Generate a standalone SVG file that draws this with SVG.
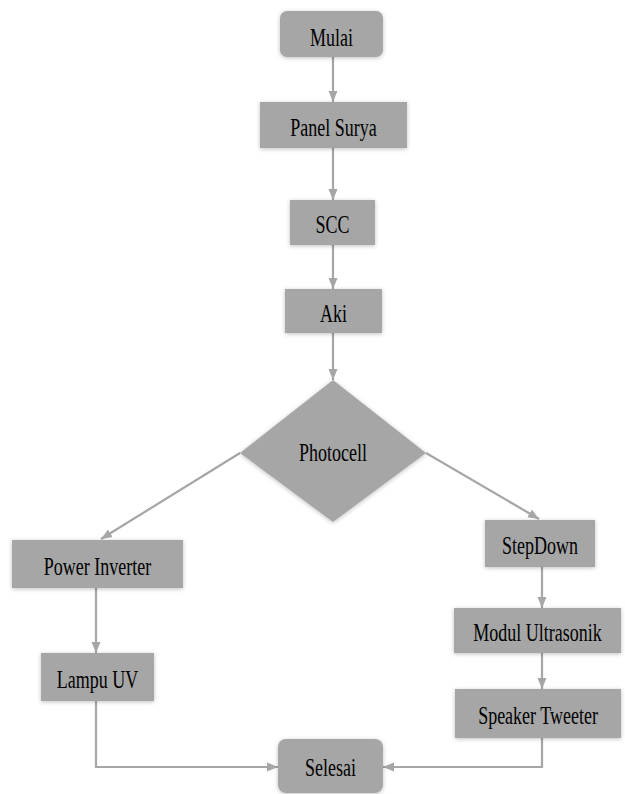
<svg xmlns="http://www.w3.org/2000/svg" width="625" height="794" viewBox="0 0 625 794">
<style>
.n{fill:#a6a6a6;filter:url(#sh)}
.t{font-size:25px;fill:#000;text-anchor:middle}
.c{fill:none;stroke:#a6a6a6;stroke-width:2.2;marker-end:url(#ah)}
</style>
<defs>
<filter id="sh" x="-20%" y="-20%" width="140%" height="140%">
<feDropShadow dx="0" dy="1" stdDeviation="2" flood-color="#000" flood-opacity="0.25"/>
</filter>
<marker id="ah" markerUnits="userSpaceOnUse" markerWidth="12" markerHeight="12" viewBox="0 0 12 12" refX="11" refY="6" orient="auto">
<path d="M0,1.5 L11,6 L0,10.5 Z" fill="#a6a6a6"/>
</marker>
</defs>
<rect width="625" height="794" fill="#fff"/>
<g id="connectors">
<path class="c" d="M333,57 V102"/>
<path class="c" d="M333,148 V200"/>
<path class="c" d="M333,245 V289"/>
<path class="c" d="M333,333 V380"/>
<path class="c" d="M240,453 L101,539"/>
<path class="c" d="M426,453 L539,519"/>
<path class="c" d="M96,588 V653"/>
<path class="c" d="M542,567 V608"/>
<path class="c" d="M542,653 V689"/>
<path class="c" d="M96,701 V767 H278"/>
<path class="c" d="M542,738 V767 H383"/>
</g>
<g font-family="'Liberation Serif', 'DejaVu Serif', serif">
<g id="mulai"><rect class="n" x="280" y="11" width="103" height="46" rx="7"/><text class="t" transform="translate(331.5,45.5) scale(0.72,1)">Mulai</text></g>
<g id="panel-surya"><rect class="n" x="260" y="102" width="147" height="46"/><text class="t" transform="translate(333.5,135.5) scale(0.72,1)">Panel Surya</text></g>
<g id="scc"><rect class="n" x="290" y="200" width="85" height="45"/><text class="t" transform="translate(332.5,233) scale(0.72,1)">SCC</text></g>
<g id="aki"><rect class="n" x="285" y="289" width="97" height="44"/><text class="t" transform="translate(333.5,321.5) scale(0.72,1)">Aki</text></g>
<g id="photocell"><polygon class="n" points="333,380 426,453 333,522 240,453"/><text class="t" transform="translate(333,461) scale(0.72,1)">Photocell</text></g>
<g id="power-inverter"><rect class="n" x="12" y="540" width="171" height="48"/><text class="t" transform="translate(97.5,575) scale(0.72,1)">Power Inverter</text></g>
<g id="stepdown"><rect class="n" x="485" y="520" width="110" height="47"/><text class="t" transform="translate(540,554) scale(0.72,1)">StepDown</text></g>
<g id="lampu-uv"><rect class="n" x="41" y="653" width="113" height="48"/><text class="t" transform="translate(97.5,688) scale(0.72,1)">Lampu UV</text></g>
<g id="modul-ultrasonik"><rect class="n" x="454" y="608" width="167" height="45"/><text class="t" transform="translate(537.5,641) scale(0.72,1)">Modul Ultrasonik</text></g>
<g id="speaker-tweeter"><rect class="n" x="455" y="689" width="166" height="49"/><text class="t" transform="translate(538,724) scale(0.72,1)">Speaker Tweeter</text></g>
<g id="selesai"><rect class="n" x="278" y="739" width="105" height="54" rx="8"/><text class="t" transform="translate(330.5,776) scale(0.72,1)">Selesai</text></g>
</g>
</svg>
